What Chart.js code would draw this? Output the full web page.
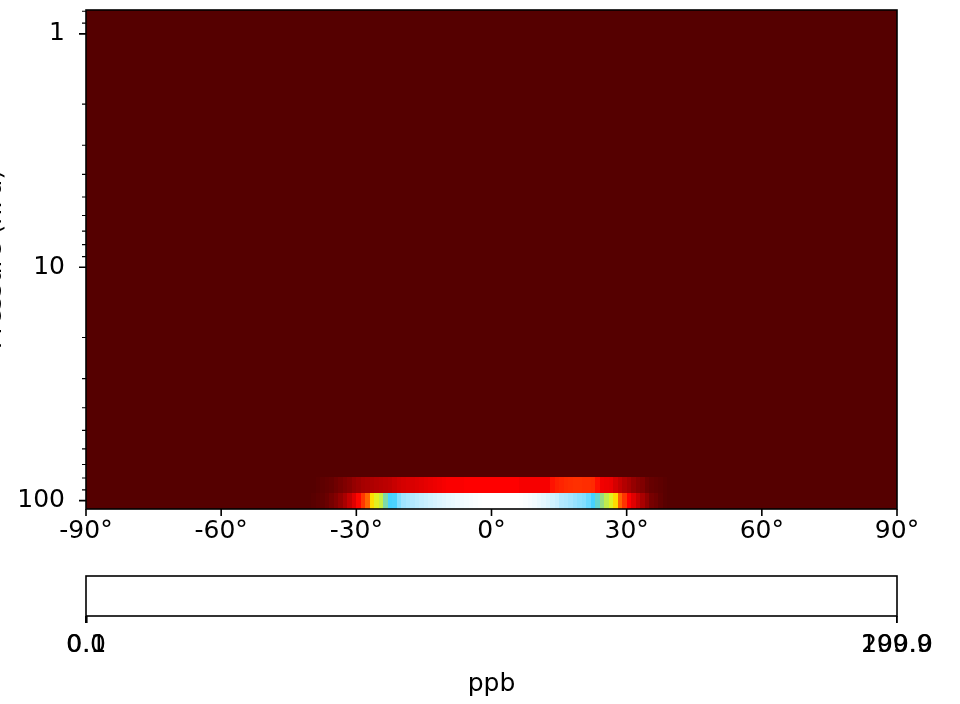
<!DOCTYPE html>
<html lang="en">
<head>
    <meta charset="UTF-8">
    <title>Pressure–latitude section</title>
    <script src="https://cdn.jsdelivr.net/npm/chart.js"></script>
    <style>
        body { margin: 0; background: #fff; }
        #wrap { position: relative; width: 960px; height: 704px; overflow: hidden; }
        canvas { position: absolute; left: 0; }
    </style>
</head>
<body>
    <div id="wrap">
        <canvas id="section" width="960" height="560" style="top:0"></canvas>
        <canvas id="colorbar" width="960" height="144" style="top:560px"></canvas>
    </div>

    <script>
        // grid: 1° latitude columns, pressure rows (edges in hPa, bottom to top)
        const latEdges = [];
        for (let lat = -90; lat <= 90; lat++) latEdges.push(lat);
        const pressureEdges = [108.6, 93.1, 79.5, 0.79];

        // non-zero values only in the two lowest rows, columns from -40° to 38°
        const bandStartLat = -40;
        const row100hPa = [
            1, 2, 3, 5, 8, 11, 15, 20, 26, 33,
            42, 58, 68, 80, 88, 93, 103, 110, 112, 130,
            140, 146, 152, 157, 162, 166, 170, 174, 178, 181,
            184, 186, 189, 191, 193, 195, 197, 199, 200, 200,
            200, 200, 200, 200, 200, 200, 199, 197, 194, 191,
            187, 183, 178, 170, 165, 152, 148, 142, 137, 133,
            130, 122, 110, 106, 100, 94, 89, 80, 68, 57,
            40, 33, 26, 20, 14, 8, 6, 3, 1
        ];
        const row86hPa = [
            0, 1, 2, 3, 4, 6, 8, 10, 12, 15,
            17, 19, 20, 21, 22, 23, 24, 25, 27, 29,
            30, 31, 31, 32, 33, 34, 35, 36, 37, 38,
            39, 39, 39, 39, 40, 40, 40, 40, 40, 40,
            40, 40, 40, 40, 40, 40, 38, 38, 38, 38,
            38, 38, 38, 46, 50, 52, 54, 55, 56, 56,
            55, 55, 54, 45, 37, 36, 35, 30, 26, 22,
            19, 15, 12, 10, 6, 4, 3, 2, 1
        ];

        const latTicks = [-90, -60, -30, 0, 30, 60, 90];
        const pressureMajor = [1, 10, 100];
        const pressureMinor = [0.8, 0.9, 2, 3, 4, 5, 6, 7, 8, 9, 20, 30, 40, 50, 60, 70, 80, 90];

        const cbarMin = 0.0;
        const cbarMax = 200.0;
        const cbarTicks = [0.0, 0.1, 199.9, 200.0];

        // colour map (ppb -> rgb)
        const cmapValues = [0, 40, 60, 70, 80, 90, 100, 110, 140, 200];
        const cmapColours = [
            [85, 0, 0], [255, 0, 0], [255, 60, 0], [255, 110, 0], [255, 220, 0],
            [220, 245, 40], [150, 220, 130], [70, 210, 255], [160, 228, 255], [255, 255, 255]
        ];

        function colourFor(v) {
            if (v <= cmapValues[0]) return 'rgb(' + cmapColours[0].join(',') + ')';
            for (let i = 1; i < cmapValues.length; i++) {
                if (v <= cmapValues[i]) {
                    const t = (v - cmapValues[i - 1]) / (cmapValues[i] - cmapValues[i - 1]);
                    const a = cmapColours[i - 1], b = cmapColours[i];
                    return 'rgb(' + a.map((c, k) => Math.round(c + (b[k] - c) * t)).join(',') + ')';
                }
            }
            return 'rgb(' + cmapColours[cmapColours.length - 1].join(',') + ')';
        }

        function cellValue(row, colLat) {
            const band = row === 0 ? row100hPa : row === 1 ? row86hPa : null;
            if (!band) return 0;
            const i = colLat - bandStartLat;
            return (i >= 0 && i < band.length) ? band[i] : 0;
        }

        Chart.defaults.font.family = '"DejaVu Sans", sans-serif';
        Chart.defaults.font.size = 25;
        Chart.defaults.color = '#000';

        const heatmap = {
            id: 'heatmap',
            beforeDatasetsDraw(chart) {
                const { ctx, chartArea: a, scales: { x, y } } = chart;
                ctx.save();
                ctx.beginPath();
                ctx.rect(a.left, a.top, a.width, a.height);
                ctx.clip();
                for (let r = 0; r < pressureEdges.length - 1; r++) {
                    const yBot = Math.round(y.getPixelForValue(pressureEdges[r]));
                    const yTop = Math.round(y.getPixelForValue(pressureEdges[r + 1]));
                    for (let c = 0; c < latEdges.length - 1; c++) {
                        const x0 = Math.round(x.getPixelForValue(latEdges[c]));
                        const x1 = Math.round(x.getPixelForValue(latEdges[c + 1]));
                        ctx.fillStyle = colourFor(cellValue(r, latEdges[c]));
                        ctx.fillRect(x0, yTop, x1 - x0, yBot - yTop);
                    }
                }
                ctx.restore();
            }
        };

        const frameAndTicks = {
            id: 'frameAndTicks',
            afterDraw(chart) {
                const { ctx, chartArea: a, scales: { x, y } } = chart;
                ctx.save();
                ctx.strokeStyle = '#000';
                ctx.lineWidth = 1.6;
                ctx.strokeRect(a.left, a.top, a.width, a.height);
                ctx.beginPath();
                latTicks.forEach(v => {
                    const px = x.getPixelForValue(v);
                    ctx.moveTo(px, a.bottom);
                    ctx.lineTo(px, a.bottom + 7);
                });
                pressureMajor.forEach(v => {
                    const py = y.getPixelForValue(v);
                    ctx.moveTo(a.left, py);
                    ctx.lineTo(a.left - 7, py);
                });
                ctx.stroke();
                ctx.lineWidth = 1.2;
                ctx.beginPath();
                pressureMinor.forEach(v => {
                    const py = y.getPixelForValue(v);
                    ctx.moveTo(a.left, py);
                    ctx.lineTo(a.left - 4, py);
                });
                ctx.stroke();

                // y axis title, mostly clipped by the left edge
                ctx.fillStyle = '#000';
                ctx.font = '25px "DejaVu Sans"';
                ctx.translate(1, (a.top + a.bottom) / 2);
                ctx.rotate(-Math.PI / 2);
                ctx.textAlign = 'center';
                ctx.textBaseline = 'alphabetic';
                ctx.fillText('Pressure (hPa)', 0, 0);
                ctx.restore();
            }
        };

        new Chart(document.getElementById('section'), {
            type: 'scatter',
            data: { datasets: [] },
            options: {
                responsive: false,
                animation: false,
                devicePixelRatio: 1,
                layout: { padding: { top: 10, right: 63, left: 0, bottom: 0 } },
                plugins: { legend: { display: false }, tooltip: { enabled: false } },
                scales: {
                    x: {
                        type: 'linear', min: -90, max: 90,
                        afterBuildTicks: s => { s.ticks = latTicks.map(v => ({ value: v })); },
                        afterFit: s => { s.height = 51; s.paddingLeft = 0; s.paddingRight = 0; },
                        grid: { display: false, drawTicks: false },
                        border: { display: false },
                        ticks: { padding: 7, autoSkip: false, maxRotation: 0, callback: v => v + '°' }
                    },
                    y: {
                        type: 'logarithmic', reverse: true, min: 0.79, max: 108.6,
                        afterBuildTicks: s => {
                            s.ticks = pressureMinor.concat(pressureMajor).sort((a, b) => a - b).map(v => ({ value: v }));
                        },
                        afterFit: s => { s.width = 86; s.paddingTop = 0; s.paddingBottom = 0; },
                        grid: { display: false, drawTicks: false },
                        border: { display: false },
                        ticks: { padding: 21, autoSkip: false, callback: v => pressureMajor.includes(v) ? String(v) : '' }
                    }
                }
            },
            plugins: [heatmap, frameAndTicks]
        });

        const cbarFrame = {
            id: 'cbarFrame',
            afterDraw(chart) {
                const { ctx, chartArea: a } = chart;
                ctx.save();
                ctx.strokeStyle = '#000';
                ctx.lineWidth = 1.6;
                ctx.strokeRect(a.left, a.top, a.width, a.height);
                ctx.restore();
            }
        };

        new Chart(document.getElementById('colorbar'), {
            type: 'scatter',
            data: { datasets: [] },
            options: {
                responsive: false,
                animation: false,
                devicePixelRatio: 1,
                layout: { padding: { left: 86, right: 63, top: 16, bottom: 0 } },
                plugins: { legend: { display: false }, tooltip: { enabled: false } },
                scales: {
                    x: {
                        type: 'linear', min: cbarMin, max: cbarMax,
                        afterBuildTicks: s => { s.ticks = cbarTicks.map(v => ({ value: v })); },
                        afterFit: s => { s.height = 88; },
                        grid: { display: true, drawOnChartArea: false, drawTicks: true, tickLength: 7, color: '#000', lineWidth: 1.6 },
                        border: { display: false },
                        ticks: { padding: 7, autoSkip: false, maxRotation: 0, callback: v => Number(v).toFixed(1) },
                        title: { display: true, text: 'ppb', color: '#000', font: { size: 25 }, padding: { top: 0, bottom: 5 } }
                    },
                    y: { display: false, min: 0, max: 1 }
                }
            },
            plugins: [cbarFrame]
        });
    </script>
</body>
</html>
